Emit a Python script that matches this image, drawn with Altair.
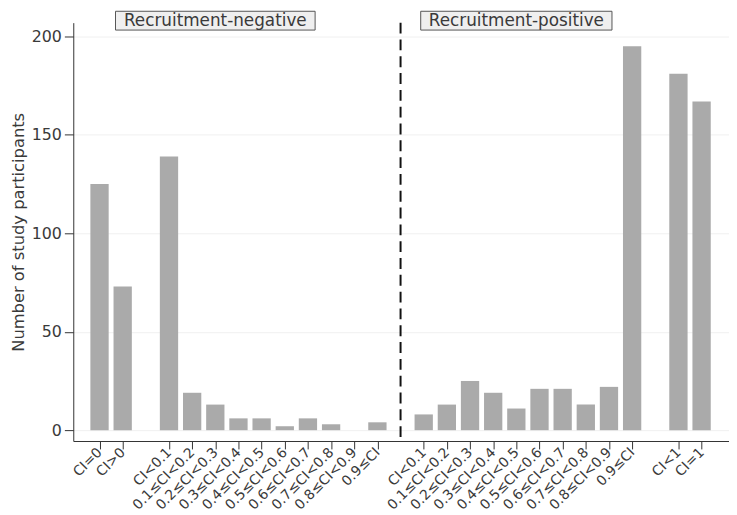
import altair as alt
import pandas as pd

# ---- data ----
neg_labels = ["CI=0", "CI>0", "CI<0.1", "0.1≤CI<0.2", "0.2≤CI<0.3", "0.3≤CI<0.4",
              "0.4≤CI<0.5", "0.5≤CI<0.6", "0.6≤CI<0.7", "0.7≤CI<0.8", "0.8≤CI<0.9", "0.9≤CI"]
neg_values = [125, 73, 139, 19, 13, 6, 6, 2, 6, 3, 0, 4]
pos_labels = ["CI<0.1", "0.1≤CI<0.2", "0.2≤CI<0.3", "0.3≤CI<0.4", "0.4≤CI<0.5",
              "0.5≤CI<0.6", "0.6≤CI<0.7", "0.7≤CI<0.8", "0.8≤CI<0.9", "0.9≤CI", "CI<1", "CI=1"]
pos_values = [8, 13, 25, 19, 11, 21, 21, 13, 22, 195, 181, 167]
panels = ["Recruitment-negative", "Recruitment-positive"]

# slot layout: neg = 2 bars, gap, 10 bars | divider | pos = 10 bars, gap, 2 bars
neg_slots = [1, 2] + list(range(4, 14))
divider = 14
pos_slots = list(range(15, 25)) + [26, 27]

rows = []
for s, l, v in zip(neg_slots, neg_labels, neg_values):
    rows.append({"slot": s, "label": l, "n": v, "panel": panels[0]})
for s, l, v in zip(pos_slots, pos_labels, pos_values):
    rows.append({"slot": s, "label": l, "n": v, "panel": panels[1]})
df = pd.DataFrame(rows)
df_bars = df[df["n"] > 0]

slots = [int(s) for s in df["slot"]]
labs = list(df["label"])
expr = "''"
for s, l in reversed(list(zip(slots, labs))):
    expr = f"datum.value == {s} ? '{l}' : ({expr})"

FONT = "DejaVu Sans"
TXT = "#3a3a3a"
AX = "#333333"

xscale = alt.Scale(domain=[0.08, 27.97], nice=False, zero=False)
yscale = alt.Scale(domain=[-5.5, 207], nice=False, zero=False)

xaxis = alt.Axis(values=slots, labelExpr=expr, labelAngle=-45,
                 labelAlign="right", labelBaseline="middle",
                 title=None, grid=False, tickSize=8, labelPadding=1,
                 labelFontSize=14, labelFont=FONT, labelColor=TXT,
                 domainColor=AX, tickColor=AX,
                 labelOverlap=False, labelBound=False, labelFlush=False)

bars = alt.Chart(df_bars).mark_bar(size=18.5, color="#aaaaaa").encode(
    x=alt.X("slot:Q", scale=xscale, axis=xaxis, title=None),
    y=alt.Y("n:Q", scale=yscale,
            axis=alt.Axis(values=[0, 50, 100, 150, 200], title="Number of study participants",
                          titleFontSize=16.5, titleFont=FONT, titleColor=TXT,
                          titleFontWeight="normal", titlePadding=5,
                          labelFontSize=16, labelFont=FONT, labelColor=TXT,
                          tickSize=9, labelPadding=3, grid=True,
                          gridColor="#f0f0f0", gridWidth=1,
                          domainColor=AX, tickColor=AX)),
)

div_df = pd.DataFrame({"slot": [divider]})
rule = alt.Chart(div_df).mark_rule(color="#111111", strokeWidth=2, strokeDash=[11, 6]).encode(
    x=alt.X("slot:Q", scale=xscale, axis=xaxis, title=None),
)

hdr_df = pd.DataFrame({"panel": panels, "cx": [6.0, 19.0], "hw": [4.31, 4.13]})
hdr_df["x0"] = hdr_df["cx"] - hdr_df["hw"]
hdr_df["x1"] = hdr_df["cx"] + hdr_df["hw"]

boxes = alt.Chart(hdr_df).mark_rect(fill="#efefef", stroke="#555555", strokeWidth=1).encode(
    x=alt.X("x0:Q", scale=xscale, axis=xaxis, title=None),
    x2="x1:Q",
    y=alt.value(-11.5),
    y2=alt.value(7.5),
)
texts = alt.Chart(hdr_df).mark_text(font=FONT, fontSize=17, color=TXT, baseline="middle").encode(
    x=alt.X("cx:Q", scale=xscale, axis=xaxis, title=None),
    y=alt.value(-2),
    text="panel:N",
)

chart = alt.layer(bars, rule, boxes, texts).properties(
    width=663, height=423,
    autosize=alt.AutoSizeParams(type="none"),
    padding={"left": 66, "top": 12, "right": 0, "bottom": 72},
).configure_view(stroke=None).configure_axis(domainWidth=1, tickWidth=1)

chart.save("out.html", embed_options={"renderer": "svg", "actions": False})
